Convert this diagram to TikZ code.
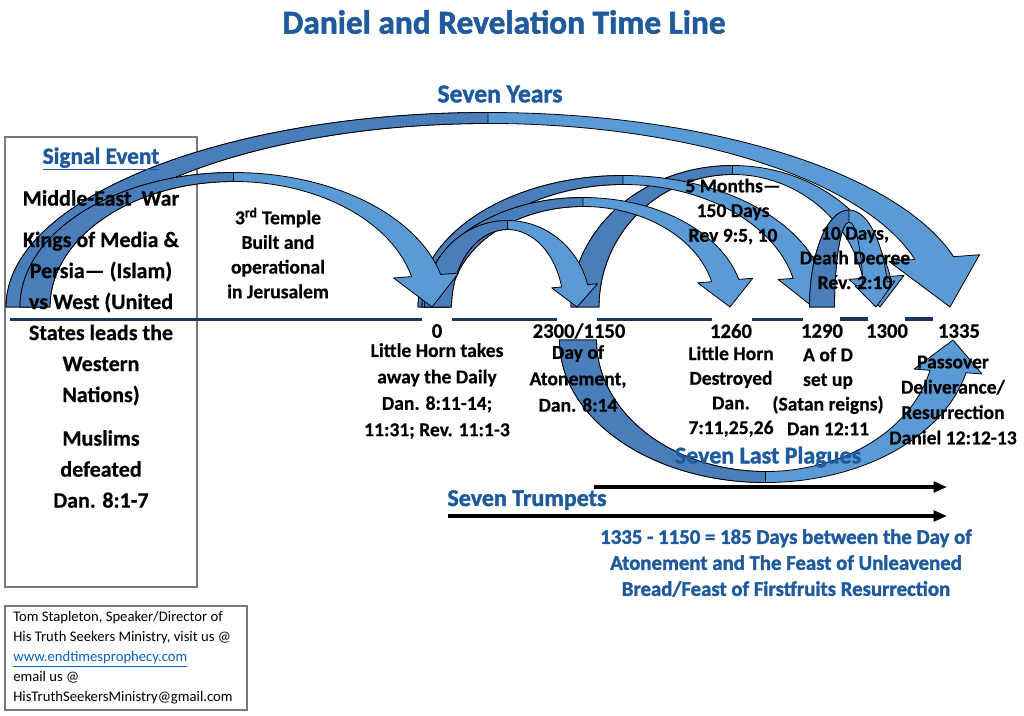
\documentclass[tikz,border=0pt]{standalone}
\usepackage{fontspec}
\setmainfont{Carlito}[BoldFeatures={FakeBold=0.5}]
\newfontfamily\heavyfont{Carlito}[BoldFeatures={FakeBold=1.6}]
\usetikzlibrary{arrows.meta}
\definecolor{arrlight}{RGB}{91,155,213}
\definecolor{arrdark}{RGB}{74,126,187}
\definecolor{tblue}{RGB}{30,90,156}
\definecolor{navy}{RGB}{23,54,93}
\definecolor{linkblue}{RGB}{5,99,193}
\definecolor{boxgray}{RGB}{120,120,120}
\tikzset{
  lbl/.style={font=\bfseries\fontsize{14.7}{18.5}\selectfont, align=center, inner sep=0pt},
  lblwide/.style={font=\bfseries\fontsize{14.7}{19.8}\selectfont, align=center, inner sep=0pt},
  num/.style={font=\bfseries\fontsize{15.5}{18}\selectfont, inner sep=0pt},
  boxtxt/.style={font=\bfseries\fontsize{16.5}{23.25}\selectfont, align=center, inner sep=0pt},
  bluehead/.style={font=\heavyfont\bfseries\fontsize{18}{22}\selectfont, text=tblue, inner sep=0pt},
  seg/.style={draw=navy, line width=2.4pt},
  timearrow/.style={-{Triangle[length=10pt,width=8pt]}, line width=2.3pt, draw=black},
  frame/.style={draw=boxgray, line width=0.8pt},
  bandlight/.style={fill=arrlight, draw=black, line width=0.6pt, line join=round},
  banddark/.style={fill=arrdark, draw=black, line width=0.6pt, line join=round},
}
% curved block arrow: cx, yb(px, down), rx, ry, band width, top thickness, head angle, head overhang
\newcommand{\carrow}[8]{%
  \pgfmathsetmacro\Acx{#1}\pgfmathsetmacro\Ayb{-#2}%
  \pgfmathsetmacro\Arxo{#3+#5/2}\pgfmathsetmacro\Arxi{#3-#5/2}%
  \pgfmathsetmacro\Aryo{#4+#6/2}\pgfmathsetmacro\Aryi{#4-#6/2}%
  \pgfmathsetmacro\Axo{\Acx+\Arxo*cos(#7)}\pgfmathsetmacro\Ayo{\Ayb+\Aryo*sin(#7)}%
  \pgfmathsetmacro\Axi{\Acx+\Arxi*cos(#7)}\pgfmathsetmacro\Ayi{\Ayb+\Aryi*sin(#7)}%
  \pgfmathsetmacro\Adx{\Axo-\Axi}\pgfmathsetmacro\Ady{\Ayo-\Ayi}%
  \pgfmathsetmacro\Adl{sqrt(\Adx*\Adx+\Ady*\Ady)}%
  \pgfmathsetmacro\Aux{\Adx/\Adl}\pgfmathsetmacro\Auy{\Ady/\Adl}%
  \pgfmathsetmacro\Amid{ifthenelse(#7>180,270,90)}%
  \pgfmathsetmacro\Aymid{\Ayb+\Aryi*sin(\Amid)}%
  \path[bandlight] (\Acx-\Arxo,\Ayb)
     arc[start angle=180,end angle=#7,x radius=\Arxo,y radius=\Aryo]
     -- ({\Axo+#8*\Aux},{\Ayo+#8*\Auy}) -- ({\Acx+#3},\Ayb)
     -- ({\Axi-#8*\Aux},{\Ayi-#8*\Auy}) -- (\Axi,\Ayi)
     arc[start angle=#7,end angle=180,x radius=\Arxi,y radius=\Aryi] -- cycle;
  \path[banddark] (\Acx-\Arxo,\Ayb)
     arc[start angle=180,end angle=\Amid,x radius=\Arxo,y radius=\Aryo]
     -- (\Acx,\Aymid)
     arc[start angle=\Amid,end angle=180,x radius=\Arxi,y radius=\Aryi] -- cycle;
}
\begin{document}
\begin{tikzpicture}[x=0.75pt,y=0.75pt]
\useasboundingbox (0,0) rectangle (1024,-715);
\fill[white] (0,0) rectangle (1024,-715);

% frames
\draw[frame] (5,-137) rectangle (197,-587);
\draw[frame] (5,-606) rectangle (247,-710);

% curved block arrows
\carrow{488}{307}{462}{189}{40}{11}{15}{26}      % Seven Years -> 1335
\carrow{732.5}{307}{147.5}{137}{28}{9}{12.5}{14} % 1150 -> 1300
\carrow{623}{307}{190}{127}{30}{9}{13.5}{15}     % 0 -> 1290
\carrow{583}{307}{147}{105}{28}{9}{14.6}{14}     % 0 -> 1260
\carrow{507.5}{307}{69.5}{82}{27}{9}{15}{10}     % 0 -> 2300/1150
\carrow{233.5}{307}{198.5}{130}{30}{9}{14}{18}   % signal -> 0
\carrow{849}{307}{27}{91}{25}{12}{15}{8}         % 1290 -> 1300 (10 days)
\carrow{765.5}{340}{187.5}{137}{37}{11}{346.7}{16} % 2300 -> 1335 (plagues)

% time line segments
\coordinate (s1a) at (10,-319.5);  \coordinate (s1b) at (422,-319.5);
\coordinate (s2a) at (452,-319.5); \coordinate (s2b) at (557,-319.5);
\coordinate (s3a) at (597,-319.5); \coordinate (s3b) at (712,-319.5);
\coordinate (s4a) at (752,-319.5); \coordinate (s4b) at (803,-319.5);
\coordinate (s5a) at (840,-319);   \coordinate (s5b) at (868,-319);
\coordinate (s6a) at (905,-319);   \coordinate (s6b) at (933,-319);
\draw[seg] (s1a) -- (s1b);
\draw[seg] (s2a) -- (s2b);
\draw[seg] (s3a) -- (s3b);
\draw[seg] (s4a) -- (s4b);
\draw[seg] (s5a) -- (s5b);
\draw[seg] (s6a) -- (s6b);

% trumpets / plagues arrows
\coordinate (pl1) at (594,-487); \coordinate (pl2) at (947,-487);
\coordinate (tr1) at (448,-516); \coordinate (tr2) at (947,-516);
\draw[timearrow] (pl1) -- (pl2);
\draw[timearrow] (tr1) -- (tr2);

% titles
\node[bluehead, font=\heavyfont\bfseries\fontsize{25}{30}\selectfont] (title) at (504,-22) {Daniel and Revelation Time Line};
\node[bluehead, font=\heavyfont\bfseries\fontsize{19.2}{22}\selectfont] (sevenyears) at (500,-94) {Seven Years};
\node[bluehead] (plagues) at (768,-457) {Seven Last Plagues};
\node[bluehead] (trumpets) at (527,-500) {Seven Trumpets};
\node[bluehead, font=\heavyfont\bfseries\fontsize{15.6}{19.5}\selectfont, align=center] (diff) at (786,-563)
  {1335 - 1150 = 185 Days between the Day of\\Atonement and The Feast of Unleavened\\Bread/Feast of Firstfruits Resurrection};

% left box text
\node[bluehead, font=\heavyfont\bfseries\fontsize{17.5}{20}\selectfont] (signal) at (101,-159) {\underline{Signal Event}};
\node[boxtxt] (mew) at (101,-198) {Middle-East\ \ War};
\node[boxtxt] (kings) at (101,-318.5) {Kings of Media \&\\Persia— (Islam)\\vs West (United\\States leads the\\Western\\Nations)};
\node[boxtxt] (muslims) at (101,-469) {Muslims\\defeated\\Dan. 8:1-7};

% labels above the line
\node[lbl] (temple) at (278,-253) {3\textsuperscript{rd} Temple\\Built and\\operational\\in Jerusalem};
\node[lbl] (five) at (733,-211.5) {5 Months—\\150 Days\\Rev 9:5, 10};
\node[lbl] (ten) at (855,-258) {10 Days,\\Death Decree\\Rev. 2:10};

% numbers
\node[num] (n0) at (437,-331) {0};
\node[num] (n2300) at (579,-331) {2300/1150};
\node[num] (n1260) at (731,-331) {1260};
\node[num] (n1290) at (822,-331) {1290};
\node[num] (n1300) at (887,-331) {1300};
\node[num] (n1335) at (959,-331) {1335};

% labels below the line
\node[lblwide] (d0) at (437,-391) {Little Horn takes\\away the Daily\\Dan. 8:11-14;\\11:31; Rev. 11:1-3};
\node[lblwide] (d2300) at (578,-378.5) {Day of\\Atonement,\\Dan. 8:14};
\node[lbl] (d1260) at (731,-391.5) {Little Horn\\Destroyed\\Dan.\\7:11,25,26};
\node[lbl] (d1290) at (828,-391.5) {A of D\\set up\\(Satan reigns)\\Dan 12:11};
\node[lbl, font=\bfseries\fontsize{14.7}{19}\selectfont] (d1335) at (953,-400) {Passover\\Deliverance/\\Resurrection\\Daniel 12:12-13};

% footer
\node[anchor=west, align=left, font=\fontsize{11}{15}\selectfont, inner sep=0pt] (footer) at (13,-658)
  {Tom Stapleton, Speaker/Director of\\His Truth Seekers Ministry, visit us @\\\textcolor{linkblue}{\underline{www.endtimesprophecy.com}}\\email us @\\HisTruthSeekersMinistry@gmail.com};
\end{tikzpicture}
\end{document}
